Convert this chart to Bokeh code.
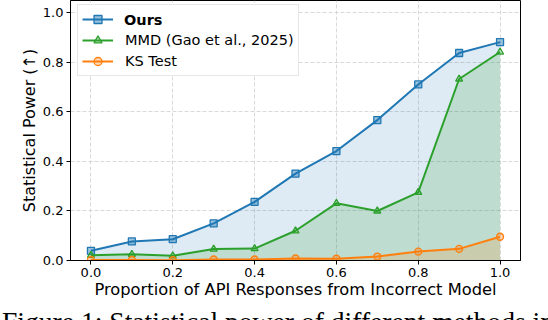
from bokeh.plotting import figure
from bokeh.layouts import column
from bokeh.models import (Range1d, Legend, LegendItem, Div,
                          FixedTicker, PrintfTickFormatter)
from bokeh.embed import file_html
from bokeh.resources import INLINE

# ---- data ----
proportion = [0.0, 0.1, 0.2, 0.3, 0.4, 0.5, 0.6, 0.7, 0.8, 0.9, 1.0]
ours = [0.039, 0.077, 0.086, 0.150, 0.237, 0.351, 0.442, 0.567, 0.711, 0.838, 0.882]
mmd = [0.021, 0.025, 0.019, 0.046, 0.048, 0.120, 0.231, 0.200, 0.275, 0.733, 0.842]
ks = [0.002, 0.002, 0.001, 0.004, 0.004, 0.008, 0.007, 0.016, 0.036, 0.047, 0.096]
ticks = [0.0, 0.2, 0.4, 0.6, 0.8, 1.0]
series_labels = ["Ours", "MMD (Gao et al., 2025)", "KS Test"]
x_label = "Proportion of API Responses from Incorrect Model"
y_label = "Statistical Power (\u2191)"
caption = "Figure 1: Statistical power of different methods in"

BLUE, GREEN, ORANGE = "#1f77b4", "#2ca02c", "#ff7f0e"
FONT = "DejaVu Sans"

p = figure(width=548, height=305, output_backend="svg", toolbar_location=None,
           x_range=Range1d(-0.05, 1.05), y_range=Range1d(0.0, 1.05),
           min_border_left=70, min_border_right=28, min_border_top=0,
           min_border_bottom=45)
p.outline_line_color = "black"
p.outline_line_width = 1
p.background_fill_color = "white"
p.border_fill_color = "white"

# grids
for g in (p.xgrid, p.ygrid):
    g.ticker = FixedTicker(ticks=ticks)
    g.grid_line_color = "#cfcfcf"
    g.grid_line_dash = "4 2"
    g.grid_line_width = 0.8

# axes
for ax in (p.xaxis[0], p.yaxis[0]):
    ax.ticker = FixedTicker(ticks=ticks)
    ax.formatter = PrintfTickFormatter(format="%.1f")
    ax.major_label_text_font = FONT
    ax.major_label_text_font_size = "13px"
    ax.major_label_text_color = "black"
    ax.axis_label_text_font = FONT
    ax.axis_label_text_font_size = "16px"
    ax.axis_label_text_font_style = "normal"
    ax.axis_label_text_color = "black"
    ax.axis_line_color = "black"
    ax.axis_line_width = 1
    ax.major_tick_line_color = "black"
    ax.major_tick_out = 4
    ax.major_tick_in = 0
    ax.minor_tick_line_color = None
    ax.major_label_standoff = 3
p.xaxis[0].axis_label = x_label
p.yaxis[0].axis_label = y_label
p.xaxis[0].axis_label_text_font_size = "16.3px"
p.xaxis[0].axis_label_standoff = 0
p.yaxis[0].axis_label_standoff = 1

# fills
p.varea(x=proportion, y1=0, y2=ours, fill_color=BLUE, fill_alpha=0.15)
p.varea(x=proportion, y1=0, y2=mmd, fill_color=GREEN, fill_alpha=0.18)
p.varea(x=proportion, y1=0, y2=ks, fill_color=ORANGE, fill_alpha=0.18)

# lines + markers
l1 = p.line(proportion, ours, line_color=BLUE, line_width=2)
m1 = p.scatter(proportion, ours, marker="square", size=7, line_color=BLUE,
               fill_color=BLUE, fill_alpha=0.45, line_width=1.3)
l2 = p.line(proportion, mmd, line_color=GREEN, line_width=2)
m2 = p.scatter(proportion, mmd, marker="triangle", size=7, line_color=GREEN,
               fill_color=GREEN, fill_alpha=0.3, line_width=1.3)
l3 = p.line(proportion, ks, line_color=ORANGE, line_width=2)
m3 = p.scatter(proportion, ks, marker="circle", size=7, line_color=ORANGE,
               fill_color=ORANGE, fill_alpha=0.3, line_width=1.3)

common = dict(glyph_width=31, glyph_height=20, label_height=20, label_standoff=12,
              label_text_font=FONT, label_text_font_size="14.5px",
              label_text_color="black", spacing=1, padding=4, location=(7, 184),
              border_line_color="#d0d0d0", border_line_width=1)

# legend box with glyphs (first label is supplied in bold by the overlay legend)
leg_all = Legend(items=[LegendItem(label=" ", renderers=[l1, m1]),
                        LegendItem(label=series_labels[1], renderers=[l2, m2]),
                        LegendItem(label=series_labels[2], renderers=[l3, m3])],
                 background_fill_color="white", background_fill_alpha=1.0, **common)
p.add_layout(leg_all)

# identical geometry, text only: bold "Ours"
leg_bold = Legend(items=[LegendItem(label=series_labels[0], renderers=[]),
                         LegendItem(label=" ", renderers=[]),
                         LegendItem(label=" ", renderers=[])],
                  label_text_font_style="bold", border_line_alpha=0.0,
                  background_fill_alpha=0.0, **common)
p.add_layout(leg_bold)

cap_div = Div(
    text=('<div style="font-family: \'Liberation Serif\', serif; font-size: 27.6px; '
          'line-height: 27.6px; white-space: nowrap; color: black; '
          'margin: 3px 0 0 2px; padding: 0;">' + caption + '</div>'),
    width=548, height=15, styles={"overflow": "hidden", "margin": "0", "padding": "0"})

layout = column(p, cap_div, spacing=0)

open("out.html", "w").write(file_html(layout, INLINE))
